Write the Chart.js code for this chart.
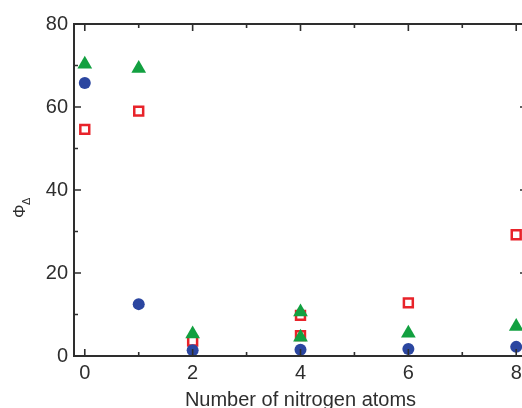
<!DOCTYPE html>
<html>
<head>
<meta charset="utf-8">
<script src="https://cdn.jsdelivr.net/npm/chart.js@4"></script>
<style>
  html, body { margin: 0; padding: 0; overflow: hidden; background: #fff; }
</style>
</head>
<body>
<canvas id="myChart" width="540" height="408"></canvas>
<script>
// number of nitrogen atoms (x) and quantum yield values (y) per series
const circleX = [0, 1, 2, 4, 6, 8];
const circleY = [65.8, 12.5, 1.4, 1.5, 1.7, 2.2];
const squareX = [0, 1, 2, 4, 4, 6, 8];
const squareY = [54.6, 59.0, 3.6, 9.8, 4.9, 12.8, 29.2];
const triangleX = [0, 1, 2, 4, 4, 6, 8];
const triangleY = [70.3, 69.3, 5.3, 10.6, 4.5, 5.5, 7.1];

const xMajor = [0, 2, 4, 6, 8];
const xMinor = [1, 3, 5, 7];
const yMajor = [0, 20, 40, 60, 80];
const yMinor = [10, 30, 50, 70];

const axisColor = '#2e2e2e';
const fontFamily = '"Liberation Sans", Arial, sans-serif';

const toPoints = (xs, ys) => xs.map((x, i) => ({ x: x, y: ys[i] }));

// frame box + inward ticks on all four sides
const frameTicks = {
    id: 'frameTicks',
    afterDatasetsDraw(chart) {
        const { ctx, chartArea: a, scales } = chart;
        const xs = scales.x, ys = scales.y;
        ctx.save();
        ctx.strokeStyle = axisColor;
        ctx.lineWidth = 2;
        ctx.strokeRect(a.left, a.top, a.right - a.left, a.bottom - a.top);
        ctx.lineWidth = 1.6;
        const xt = (v, len) => {
            const px = xs.getPixelForValue(v);
            ctx.beginPath();
            ctx.moveTo(px, a.bottom); ctx.lineTo(px, a.bottom - len);
            ctx.moveTo(px, a.top); ctx.lineTo(px, a.top + len);
            ctx.stroke();
        };
        const yt = (v, len) => {
            const py = ys.getPixelForValue(v);
            ctx.beginPath();
            ctx.moveTo(a.left, py); ctx.lineTo(a.left + len, py);
            ctx.moveTo(a.right, py); ctx.lineTo(a.right - len, py);
            ctx.stroke();
        };
        xMajor.forEach(v => xt(v, 7));
        xMinor.forEach(v => xt(v, 4));
        yMajor.forEach(v => yt(v, 7));
        yMinor.forEach(v => yt(v, 4));

        // y axis title: Phi with subscript Delta
        ctx.translate(25, 212);
        ctx.rotate(-Math.PI / 2);
        ctx.fillStyle = axisColor;
        ctx.textBaseline = 'alphabetic';
        ctx.font = '17px ' + fontFamily;
        ctx.fillText('Φ', -6, 0);
        ctx.font = '11px ' + fontFamily;
        ctx.fillText('Δ', 7, 5);
        ctx.restore();
    }
};

new Chart(document.getElementById('myChart').getContext('2d'), {
    type: 'scatter',
    data: {
        datasets: [
            {
                data: toPoints(triangleX, triangleY),
                pointStyle: 'triangle',
                pointRadius: 8.5,
                backgroundColor: '#12a040',
                borderColor: '#12a040',
                borderWidth: 0,
            },
            {
                data: toPoints(circleX, circleY),
                pointStyle: 'circle',
                pointRadius: 6,
                backgroundColor: '#2b46a0',
                borderColor: '#2b46a0',
                borderWidth: 0,
            },
            {
                data: toPoints(squareX, squareY),
                pointStyle: 'rect',
                pointRadius: 6.3,
                backgroundColor: '#fff',
                borderColor: '#e8232a',
                borderWidth: 2.5,
            }
        ]
    },
    options: {
        responsive: false,
        animation: false,
        layout: { padding: { top: 24, right: 13, left: 0, bottom: 0 } },
        plugins: {
            legend: { display: false },
            tooltip: { enabled: false },
        },
        scales: {
            x: {
                type: 'linear',
                min: -0.2,
                max: 8.2,
                afterFit: s => { s.height = 52; },
                afterBuildTicks: s => { s.ticks = xMajor.map(v => ({ value: v })); },
                grid: { display: false, drawTicks: false },
                border: { display: false },
                ticks: {
                    padding: 5,
                    color: axisColor,
                    font: { family: fontFamily, size: 20 },
                },
                title: {
                    display: true,
                    text: 'Number of nitrogen atoms',
                    color: axisColor,
                    font: { family: fontFamily, size: 20 },
                    padding: { top: 0, bottom: -4 },
                },
            },
            y: {
                min: 0,
                max: 80,
                afterFit: s => { s.width = 74; },
                afterBuildTicks: s => { s.ticks = yMajor.map(v => ({ value: v })); },
                grid: { display: false, drawTicks: false },
                border: { display: false },
                ticks: {
                    padding: 6,
                    color: axisColor,
                    font: { family: fontFamily, size: 20 },
                },
            }
        }
    },
    plugins: [frameTicks],
});
</script>
</body>
</html>
